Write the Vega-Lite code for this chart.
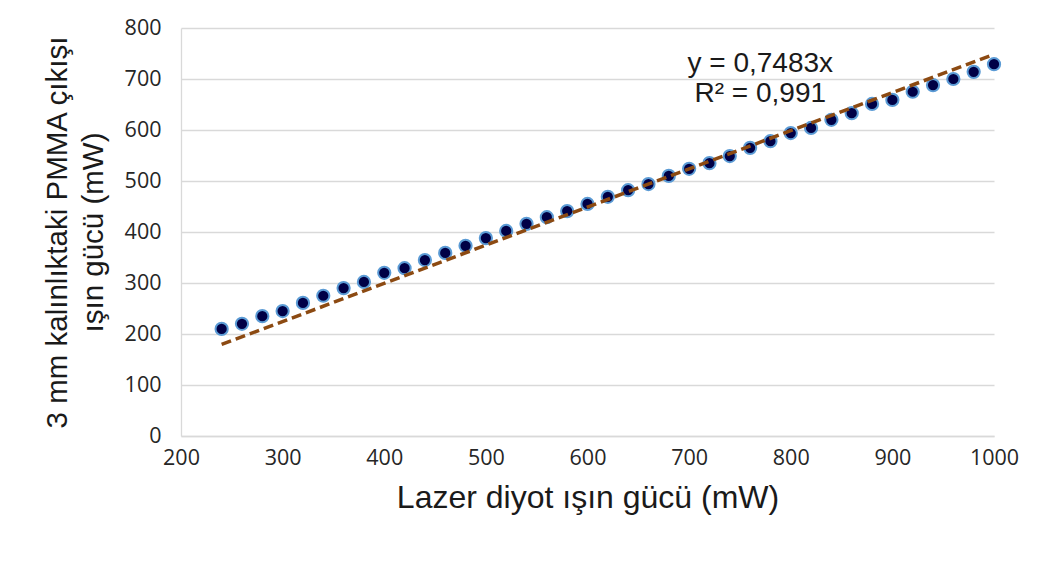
{
  "$schema": "https://vega.github.io/schema/vega-lite/v6.json",
  "autosize": "none",
  "width": 813,
  "height": 408,
  "padding": {"left": 181, "top": 28, "right": 46, "bottom": 125},
  "background": "white",
  "config": {
    "view": {"stroke": null},
    "axis": {
      "labelFont": "Open Sans",
      "labelFontSize": 21.5,
      "labelColor": "#262626",
      "titleFont": "Liberation Sans",
      "titleFontSize": 32,
      "titleFontWeight": "normal",
      "titleColor": "#1a1a1a",
      "ticks": false,
      "gridColor": "#D9D9D9",
      "gridWidth": 1.3,
      "domainColor": "#D9D9D9",
      "domainWidth": 1.3
    }
  },
  "datasets": {
    "pts": [
      {"x": 240, "y": 210}, {"x": 260, "y": 220}, {"x": 280, "y": 235}, {"x": 300, "y": 245},
      {"x": 320, "y": 261}, {"x": 340, "y": 275}, {"x": 360, "y": 290}, {"x": 380, "y": 302},
      {"x": 400, "y": 320}, {"x": 420, "y": 329}, {"x": 440, "y": 345}, {"x": 460, "y": 359},
      {"x": 480, "y": 373}, {"x": 500, "y": 388}, {"x": 520, "y": 402}, {"x": 540, "y": 416},
      {"x": 560, "y": 429}, {"x": 580, "y": 441}, {"x": 600, "y": 455}, {"x": 620, "y": 469},
      {"x": 640, "y": 482}, {"x": 660, "y": 494}, {"x": 680, "y": 510}, {"x": 700, "y": 524},
      {"x": 720, "y": 535}, {"x": 740, "y": 549}, {"x": 760, "y": 565}, {"x": 780, "y": 578},
      {"x": 800, "y": 594}, {"x": 820, "y": 604}, {"x": 840, "y": 620}, {"x": 860, "y": 633},
      {"x": 880, "y": 651}, {"x": 900, "y": 659}, {"x": 920, "y": 675}, {"x": 940, "y": 688},
      {"x": 960, "y": 700}, {"x": 980, "y": 714}, {"x": 1000, "y": 729}
    ],
    "trend": [
      {"x": 240, "y": 179.6}, {"x": 1000, "y": 748.3}
    ],
    "notes": [
      {"x": 770, "y": 729, "t": "y = 0,7483x"},
      {"x": 770, "y": 671, "t": "R² = 0,991"}
    ]
  },
  "layer": [
    {
      "data": {"name": "pts"},
      "mark": {"type": "point", "filled": true, "fill": "#000046", "stroke": "#5B9BD5", "strokeWidth": 2, "size": 150, "opacity": 1},
      "encoding": {
        "x": {
          "field": "x", "type": "quantitative",
          "scale": {"domain": [200, 1000], "nice": false},
          "axis": {"values": [200, 300, 400, 500, 600, 700, 800, 900, 1000], "format": "d", "grid": false, "labelPadding": 11, "title": "Lazer diyot ışın gücü (mW)", "titlePadding": 14, "labelFlush": false}
        },
        "y": {
          "field": "y", "type": "quantitative",
          "scale": {"domain": [0, 800], "nice": false},
          "axis": {"values": [0, 100, 200, 300, 400, 500, 600, 700, 800], "labelPadding": 20, "title": ["3 mm kalınlıktaki PMMA çıkışı", "ışın gücü (mW)"], "titleFontSize": 29.5, "titleLineHeight": 36, "titlePadding": 16}
        }
      }
    },
    {
      "data": {"name": "trend"},
      "mark": {"type": "line", "color": "#8C4A12", "strokeWidth": 3.5, "strokeDash": [10, 5]},
      "encoding": {
        "x": {"field": "x", "type": "quantitative"},
        "y": {"field": "y", "type": "quantitative"}
      }
    },
    {
      "data": {"name": "notes"},
      "mark": {"type": "text", "font": "Liberation Sans", "fontSize": 28, "color": "#1a1a1a", "baseline": "middle", "align": "center"},
      "encoding": {
        "x": {"field": "x", "type": "quantitative"},
        "y": {"field": "y", "type": "quantitative"},
        "text": {"field": "t"}
      }
    }
  ]
}
